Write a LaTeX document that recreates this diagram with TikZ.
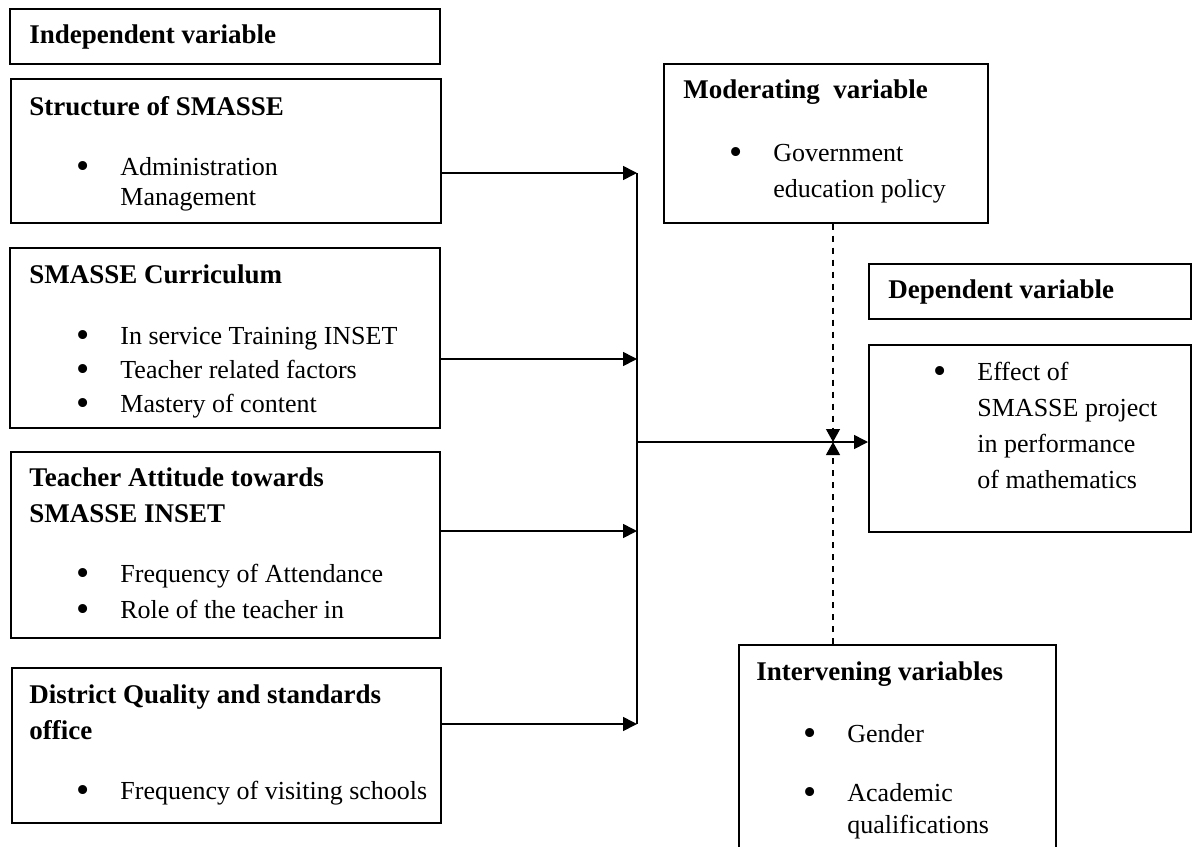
\documentclass[tikz,border=0pt]{standalone}
\usepackage{fontspec}
\setmainfont{Liberation Serif}
\usetikzlibrary{arrows.meta, positioning}

\newcommand{\itm}[1]{\makebox[22pt][l]{\raisebox{-1.6pt}{\scalebox{1.45}{\textbullet}}}#1}
\newcommand{\gap}{\hspace*{22pt}}

\begin{document}
\begin{tikzpicture}[
    x=0.5pt, y=-0.5pt,
    box/.style={rectangle, draw=black, line width=0.8pt, anchor=north west, inner sep=0pt},
    head/.style={anchor=base west, inner sep=0pt, align=left,
                 font=\fontsize{13.5}{18}\selectfont\bfseries},
    item/.style={anchor=base west, inner sep=0pt, align=left,
                 font=\fontsize{13}{18}\selectfont},
    arr/.style={-{Triangle[length=7pt, width=7pt]}, line width=0.8pt},
    dasharr/.style={-{Triangle[length=6.5pt, width=7pt]}, line width=0.6pt, dash pattern=on 3pt off 3pt},
]
\useasboundingbox (0,0) rectangle (1193,846);
\clip (0,0) rectangle (1193,846);

% Independent side (multi-line texts sit on their last baseline)
\node[box, minimum width=215pt, minimum height=27.5pt] (indep) at (9,8) {};
\node[head] (indephead) at (29,43) {Independent variable};

\node[box, minimum width=215pt, minimum height=72pt] (struct) at (10,78) {};
\node[head] (structhead) at (29,115) {Structure of SMASSE};
\node[item] (structitem) at (76,205) {\itm{Administration}\\[-3pt]\gap Management};

\node[box, minimum width=215pt, minimum height=90pt] (curric) at (9,247) {};
\node[head] (curhead) at (29,283) {SMASSE Curriculum};
\node[item] (curitems) at (76,412) {\itm{In service Training INSET}\\[-1pt]
    \itm{Teacher related factors}\\[-1pt]\itm{Mastery of content}};

\node[box, minimum width=214.5pt, minimum height=93pt] (attit) at (10,451) {};
\node[head] (atthead) at (29,522) {Teacher Attitude towards\\SMASSE INSET};
\node[item] (attitems) at (76,618) {\itm{Frequency of Attendance}\\\itm{Role of the teacher in}};

\node[box, minimum width=214.5pt, minimum height=77.5pt] (district) at (11,667) {};
\node[head] (disthead) at (29,739) {District Quality and standards\\office};
\node[item] (distitem) at (76,799) {\itm{Frequency of visiting schools}};

% Moderating variable
\node[box, minimum width=162pt, minimum height=79.5pt] (moder) at (663,63) {};
\node[head] (modhead) at (683,98) {Moderating\ \ variable};
\node[item] (moditem) at (729,197) {\itm{Government}\\\gap education policy};

% Dependent variable
\node[box, minimum width=161pt, minimum height=27.5pt] (deplab) at (868,263) {};
\node[head] (dephead) at (888,298) {Dependent variable};
\node[box, minimum width=161pt, minimum height=93.5pt] (effect) at (868,344) {};
\node[item] (effitem) at (933,488) {\itm{Effect of}\\\gap SMASSE project\\
    \gap in performance\\\gap of mathematics};

% Intervening variables
\node[box, minimum width=158.5pt, minimum height=118pt] (interv) at (738,644) {};
\node[head] (intvhead) at (756,680) {Intervening variables};
\node[item] (gender) at (803,742) {\itm{Gender}};
\node[item] (academic) at (803,833) {\itm{Academic}\\[-2pt]\gap qualifications};

% Junctions
\coordinate (j1) at (637,173);
\coordinate (j2) at (637,359);
\coordinate (j3) at (637,531);
\coordinate (j4) at (637,724);
\coordinate (jm) at (637,442);
\coordinate (cross) at (833,442);

% Arrows
\draw[arr] (struct.east |- j1) -- (j1);
\draw[arr] (curric.east |- j2) -- (j2);
\draw[arr] (attit.east |- j3) -- (j3);
\draw[arr] (district.east |- j4) -- (j4);
\draw[line width=0.8pt] (j1) -- (j4);
\draw[arr] (jm) -- (effect.west |- jm);

% Dashed influences
\draw[dasharr] (moder.south -| cross) -- (cross);
\draw[dasharr] (interv.north -| cross) -- (cross);

\end{tikzpicture}
\end{document}
